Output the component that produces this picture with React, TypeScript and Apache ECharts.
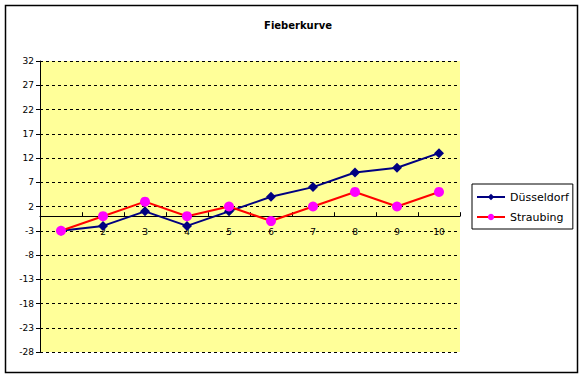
import React, { useEffect, useRef } from "react";
import * as echarts from "echarts";

const categories = ["1", "2", "3", "4", "5", "6", "7", "8", "9", "10"];
const duesseldorf = [-3, -2, 1, -2, 1, 4, 6, 9, 10, 13];
const straubing = [-3, 0, 3, 0, 2, -1, 2, 5, 2, 5];
const yMin = -28;
const yMax = 32;
const yStep = 5;

export default function App() {
  const ref = useRef<HTMLDivElement>(null);
  useEffect(() => {
    document.body.style.margin = "0";
    const chart = echarts.init(ref.current!, null, { renderer: "svg" });
    const font = "Tahoma, 'DejaVu Sans', sans-serif";
    chart.setOption({
      animation: false,
      backgroundColor: "#ffffff",
      title: {
        text: "Fieberkurve",
        left: 293,
        top: 15,
        textAlign: "center",
        textStyle: { fontSize: 10, fontWeight: "bold", color: "#000", fontFamily: font },
      },
      graphic: [
        {
          type: "rect",
          shape: { x: 5.5, y: 5.5, width: 572, height: 367 },
          style: { fill: "none", stroke: "#000", lineWidth: 1.5 },
          z: 100,
        },
      ],
      grid: {
        left: 40,
        top: 61,
        width: 420,
        height: 291,
        show: true,
        backgroundColor: "#FFFF99",
        borderWidth: 0,
      },
      legend: {
        orient: "vertical",
        left: 472,
        top: 184,
        padding: [6, 4, 5, 4],
        itemGap: 6,
        itemWidth: 28,
        itemHeight: 8,
        borderColor: "#000",
        borderWidth: 1,
        backgroundColor: "#fff",
        textStyle: { fontSize: 11, lineHeight: 14, color: "#000", fontFamily: font },
        data: ["Düsseldorf", "Straubing"],
      },
      xAxis: {
        type: "category",
        data: categories,
        boundaryGap: true,
        axisLine: { onZero: true, lineStyle: { color: "#000", width: 1 } },
        axisTick: { show: true, inside: true, length: 4, lineStyle: { color: "#000" } },
        axisLabel: { fontSize: 9, color: "#000", fontFamily: font, margin: -125 },
        splitLine: { show: false },
      },
      yAxis: {
        type: "value",
        min: yMin,
        max: yMax,
        interval: yStep,
        axisLine: { show: true, lineStyle: { color: "#000", width: 1 } },
        axisTick: { show: true, length: 4, lineStyle: { color: "#000" } },
        axisLabel: { fontSize: 9, color: "#000", fontFamily: font, margin: 6 },
        splitLine: { show: true, lineStyle: { color: "#000", type: [3, 3], width: 1 } },
      },
      series: [
        {
          name: "Düsseldorf",
          type: "line",
          data: duesseldorf,
          color: "#000080",
          lineStyle: { color: "#000080", width: 2 },
          itemStyle: { color: "#000080" },
          symbol: "diamond",
          symbolSize: 10,
          z: 3,
        },
        {
          name: "Straubing",
          type: "line",
          data: straubing,
          color: "#FF00FF",
          lineStyle: { color: "#FF0000", width: 2 },
          itemStyle: { color: "#FF00FF" },
          symbol: "circle",
          symbolSize: 10,
          z: 4,
        },
      ],
    });
    return () => chart.dispose();
  }, []);
  return <div ref={ref} style={{ width: 585, height: 378 }} />;
}
